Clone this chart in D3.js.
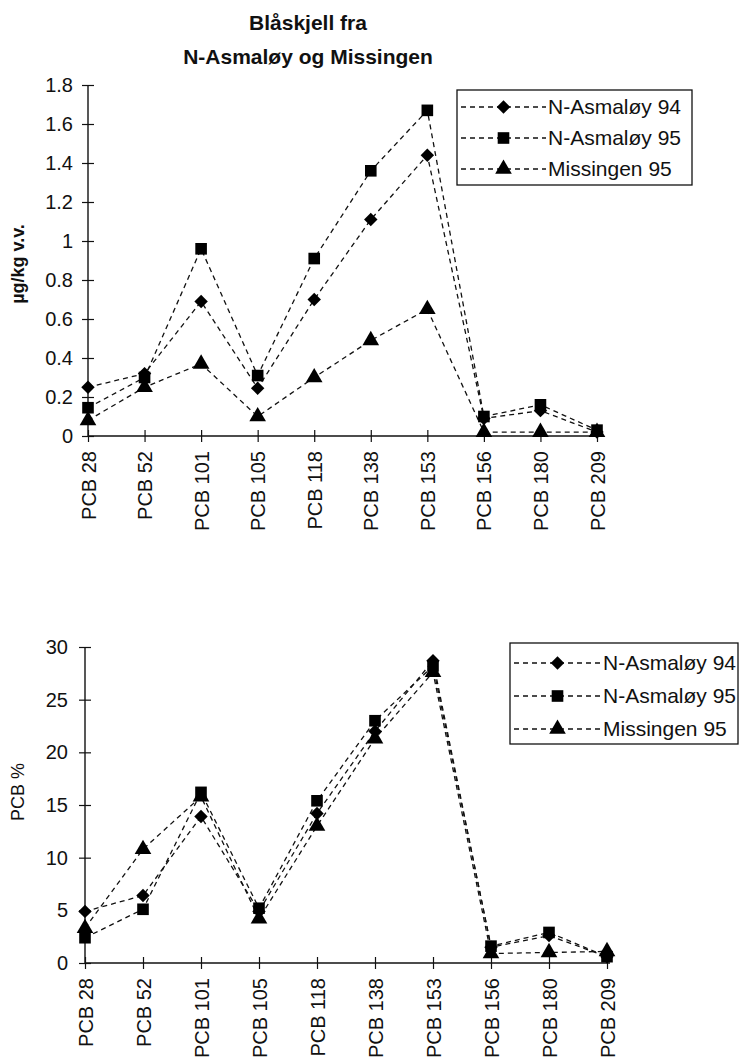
<!DOCTYPE html>
<html>
<head>
<meta charset="utf-8">
<script src="https://cdn.jsdelivr.net/npm/d3@7"></script>
<style>
  body { margin: 0; background: #fff; }
  svg { display: block; font-family: "Liberation Sans", Arial, sans-serif; }
</style>
</head>
<body>
<div id="chart"></div>
<script>
const categories = ['PCB 28', 'PCB 52', 'PCB 101', 'PCB 105', 'PCB 118', 'PCB 138', 'PCB 153', 'PCB 156', 'PCB 180', 'PCB 209'];
const seriesNames = ['N-Asmaløy 94', 'N-Asmaløy 95', 'Missingen 95'];
const markerTypes = ['diamond', 'square', 'triangle'];

// µg/kg v.v.
const asmaloy94 = [0.25, 0.32, 0.69, 0.245, 0.70, 1.11, 1.44, 0.09, 0.13, 0.02];
const asmaloy95 = [0.145, 0.30, 0.96, 0.31, 0.91, 1.36, 1.67, 0.10, 0.16, 0.03];
const missingen95 = [0.08, 0.25, 0.37, 0.10, 0.30, 0.49, 0.65, 0.02, 0.02, 0.02];

// PCB %
const asmaloy94Pct = [4.9, 6.4, 13.9, 4.9, 14.2, 22.0, 28.7, 1.5, 2.6, 0.6];
const asmaloy95Pct = [2.4, 5.1, 16.2, 5.2, 15.4, 23.0, 28.2, 1.6, 2.9, 0.6];
const missingen95Pct = [3.3, 10.8, 15.8, 4.2, 13.0, 21.3, 27.6, 0.9, 1.0, 1.1];

const topTicks = [0, 0.2, 0.4, 0.6, 0.8, 1, 1.2, 1.4, 1.6, 1.8];
const bottomTicks = [0, 5, 10, 15, 20, 25, 30];

const W = 739, H = 1061;
const FONT = '"Liberation Sans", Arial, sans-serif';
const svg = d3.select('#chart').append('svg')
    .attr('width', W).attr('height', H);

const titleLines = ['Blåskjell fra', 'N-Asmaløy og Missingen'];
svg.append('g').selectAll('text')
    .data(titleLines)
    .enter().append('text')
    .attr('x', 308)
    .attr('y', (d, i) => 30 + i * 34)
    .attr('text-anchor', 'middle')
    .attr('font-size', '21px')
    .attr('font-weight', 'bold')
    .attr('fill', '#111')
    .text(d => d);

function markerPath(type) {
    if (type === 'diamond') return d3.symbol().type(d3.symbolDiamond2).size(115)();
    if (type === 'square') return d3.symbol().type(d3.symbolSquare).size(135)();
    return d3.symbol().type(d3.symbolTriangle).size(120)();
}

function drawPanel(opts) {
    const { x0, x1, yTop, yBottom, domainMax, ticks, data, yTitle, yTitleBold, yTitleX, yTitleY, legend } = opts;
    const g = svg.append('g');

    const x = d3.scalePoint().domain(categories).range([x0, x1]).padding(0);
    const y = d3.scaleLinear().domain([0, domainMax]).range([yBottom, yTop]);

    // y axis, ticks cross the line
    const yAxis = g.append('g')
        .attr('transform', `translate(${x0},0)`)
        .call(d3.axisLeft(y).tickValues(ticks).tickSize(5).tickPadding(opts.yPad)
            .tickFormat(d => String(+d.toFixed(1))));
    yAxis.select('.domain').attr('stroke', '#111').attr('stroke-width', 1.4).attr('d', `M0,${yTop}V${yBottom}`);
    yAxis.selectAll('.tick line').attr('x1', -6).attr('x2', 6).attr('stroke', '#111').attr('stroke-width', 1.2);
    yAxis.selectAll('.tick text').attr('font-size', '20px').attr('fill', '#111').attr('font-family', FONT);

    // x axis
    const xAxis = g.append('g')
        .attr('transform', `translate(0,${yBottom})`)
        .call(d3.axisBottom(x).tickSize(5).tickPadding(0));
    xAxis.select('.domain').attr('stroke', '#111').attr('stroke-width', 1.4).attr('d', `M${x0},0H${x1 + 3}`);
    xAxis.selectAll('.tick line').attr('y1', -6).attr('y2', 6).attr('stroke', '#111').attr('stroke-width', 1.2);
    xAxis.selectAll('.tick text')
        .attr('font-size', '20px').attr('fill', '#111')
        .attr('font-family', FONT)
        .attr('text-anchor', 'end')
        .attr('transform', 'translate(0,15) rotate(-90)')
        .attr('dy', '0.35em')
        .attr('x', 0).attr('y', 0);

    // y title
    g.append('text')
        .attr('transform', `translate(${yTitleX},${yTitleY}) rotate(-90)`)
        .attr('text-anchor', 'middle')
        .attr('font-size', '18px')
        .attr('font-weight', yTitleBold ? 'bold' : 'normal')
        .attr('fill', '#111')
        .text(yTitle);

    const line = d3.line()
        .x((d, i) => x(categories[i]))
        .y(d => y(d));

    data.forEach(vals => {
        g.append('path')
            .datum(vals)
            .attr('d', line)
            .attr('fill', 'none')
            .attr('stroke', '#111')
            .attr('stroke-width', 1.3)
            .attr('stroke-dasharray', '5,4');
    });
    data.forEach((vals, si) => {
        g.append('g').selectAll('path')
            .data(vals)
            .enter().append('path')
            .attr('transform', (d, i) => `translate(${x(categories[i])},${y(d)})`)
            .attr('d', markerPath(markerTypes[si]))
            .attr('fill', '#000');
    });

    // legend
    const lg = g.append('g').attr('transform', `translate(${legend.x},${legend.y})`);
    lg.append('rect')
        .attr('width', legend.w).attr('height', legend.h)
        .attr('fill', '#fff').attr('stroke', '#111').attr('stroke-width', 1.3);
    seriesNames.forEach((name, i) => {
        const row = lg.append('g').attr('transform', `translate(0,${legend.row0 + i * legend.rowH})`);
        row.append('line')
            .attr('x1', 4).attr('x2', legend.lineEnd)
            .attr('stroke', '#111').attr('stroke-width', 1.3).attr('stroke-dasharray', '5,4');
        row.append('path')
            .attr('transform', `translate(${(4 + legend.lineEnd) / 2},0)`)
            .attr('d', markerPath(markerTypes[i]))
            .attr('fill', '#000');
        row.append('text')
            .attr('x', legend.lineEnd + 2).attr('dy', '0.35em')
            .attr('font-size', '21px').attr('fill', '#111')
            .text(name);
    });
}

drawPanel({
    x0: 88, x1: 597, yTop: 85, yBottom: 436, domainMax: 1.8, ticks: topTicks, yPad: 10,
    data: [asmaloy94, asmaloy95, missingen95],
    yTitle: 'µg/kg v.v.', yTitleBold: true, yTitleX: 24, yTitleY: 264,
    legend: { x: 457, y: 90, w: 235, h: 95, row0: 17, rowH: 31, lineEnd: 89 }
});

drawPanel({
    x0: 85, x1: 607, yTop: 647, yBottom: 963, domainMax: 30, ticks: bottomTicks, yPad: 12,
    data: [asmaloy94Pct, asmaloy95Pct, missingen95Pct],
    yTitle: 'PCB %', yTitleBold: false, yTitleX: 24, yTitleY: 792,
    legend: { x: 510, y: 643, w: 228, h: 101, row0: 20, rowH: 33, lineEnd: 91 }
});
</script>
</body>
</html>
